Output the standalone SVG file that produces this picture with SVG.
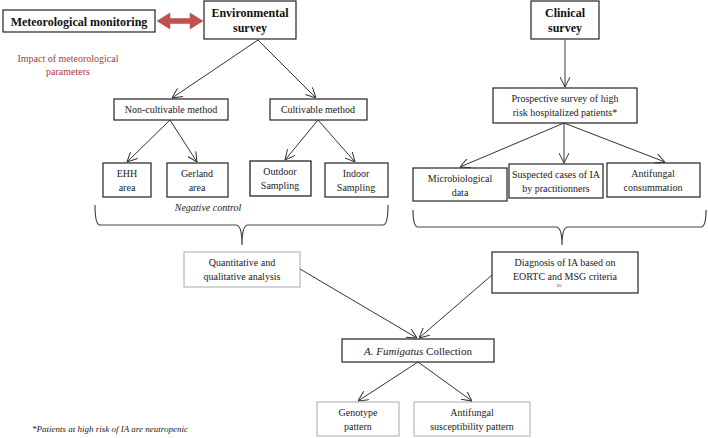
<svg xmlns="http://www.w3.org/2000/svg" width="708" height="438" viewBox="0 0 708 438">
<defs>
<style>
.box{fill:#fff;stroke:#222;stroke-width:1.2}
.gbox{fill:#fff;stroke:#aaa;stroke-width:1}
text{font-family:"Liberation Serif","Times New Roman",Times,serif}
.t{font-size:10px;fill:#222;text-anchor:middle}
.b{font-size:12px;font-weight:bold;fill:#111;text-anchor:middle}
.r{font-size:10px;fill:#b03a36;text-anchor:middle}
.ln{stroke:#333;stroke-width:1;fill:none}
.br{stroke:#444;stroke-width:1.2;fill:none}
</style>
<marker id="ah" viewBox="0 0 10 10" refX="10" refY="5" markerWidth="10" markerHeight="10" markerUnits="userSpaceOnUse" orient="auto">
<path d="M0,0 L10,5 L0,10" fill="none" stroke="#333" stroke-width="1"/>
</marker>
</defs>
<rect width="708" height="438" fill="#fff"/>

<g id="meteo">
<rect class="box" x="3" y="10" width="152" height="22"/>
<text class="b" x="79" y="25.5">Meteorological monitoring</text>
</g>
<g id="impact">
<text class="r" x="68" y="62">Impact of meteorological</text>
<text class="r" x="68" y="75">parameters</text>
</g>
<g id="env">
<rect class="box" x="204" y="1" width="92" height="38"/>
<text class="b" x="250" y="17">Environmental</text>
<text class="b" x="250" y="32">survey</text>
</g>
<g id="clin">
<rect class="box" x="531" y="1" width="68" height="38"/>
<text class="b" x="565" y="17">Clinical</text>
<text class="b" x="565" y="32">survey</text>
</g>
<g id="noncult">
<rect class="box" x="114" y="99" width="114" height="21"/>
<text class="t" x="171" y="113">Non-cultivable method</text>
</g>
<g id="cult">
<rect class="box" x="270" y="99" width="97" height="21"/>
<text class="t" x="318" y="113">Cultivable method</text>
</g>
<g id="ehh">
<rect class="box" x="103" y="163" width="48" height="34"/>
<text class="t" x="127" y="177">EHH</text>
<text class="t" x="127" y="191">area</text>
</g>
<g id="gerland">
<rect class="box" x="167" y="163" width="61" height="34"/>
<text class="t" x="197" y="177">Gerland</text>
<text class="t" x="197" y="191">area</text>
</g>
<g id="outdoor">
<rect class="box" x="250" y="161" width="61" height="35" style="stroke:#111"/>
<text class="t" x="280" y="175">Outdoor</text>
<text class="t" x="280" y="189">Sampling</text>
</g>
<g id="indoor">
<rect class="box" x="325" y="163" width="63" height="34"/>
<text class="t" x="356" y="177">Indoor</text>
<text class="t" x="356" y="191">Sampling</text>
</g>
<g id="negctrl">
<text class="t" x="208" y="211" font-style="italic">Negative control</text>
</g>
<g id="prosp">
<rect class="box" x="493" y="88" width="144" height="35"/>
<text class="t" x="565" y="102">Prospective survey of high</text>
<text class="t" x="565" y="116">risk hospitalized patients*</text>
</g>
<g id="micro">
<rect class="box" x="413" y="168" width="94" height="33"/>
<text class="t" x="460" y="182">Microbiological</text>
<text class="t" x="460" y="196">data</text>
</g>
<g id="suspect">
<rect class="box" x="509" y="164" width="94" height="34"/>
<text class="t" x="556" y="178">Suspected cases of IA</text>
<text class="t" x="556" y="192">by practitionners</text>
</g>
<g id="antifcons">
<rect class="box" x="607" y="163" width="93" height="34"/>
<text class="t" x="653" y="177">Antifungal</text>
<text class="t" x="653" y="191">consummation</text>
</g>
<g id="quant">
<rect class="gbox" x="184" y="252" width="116" height="35"/>
<text class="t" x="242" y="266">Quantitative and</text>
<text class="t" x="242" y="280">qualitative analysis</text>
</g>
<g id="diag">
<rect class="box" x="492" y="252" width="146" height="41"/>
<text class="t" x="565" y="266">Diagnosis of IA based on</text>
<text class="t" x="565" y="280">EORTC and MSG criteria</text>
<text class="t" x="559" y="287" style="font-size:5px">25</text>
</g>
<g id="fumig">
<rect class="box" x="342" y="339" width="152" height="23"/>
<text class="t" x="418" y="354.5" style="font-size:11px"><tspan font-style="italic">A. Fumigatus</tspan> Collection</text>
</g>
<g id="geno">
<rect class="gbox" x="317" y="402" width="82" height="34"/>
<text class="t" x="358" y="416">Genotype</text>
<text class="t" x="358" y="430">pattern</text>
</g>
<g id="suscept">
<rect class="gbox" x="414" y="402" width="116" height="34"/>
<text class="t" x="472" y="416">Antifungal</text>
<text class="t" x="472" y="430">susceptibility pattern</text>
</g>
<g id="footnote">
<text class="t" x="32" y="432" style="text-anchor:start;font-size:9px" font-style="italic">*Patients at high risk of IA are neutropenic</text>
</g>

<g id="connectors">
<polygon points="157,21 170,13 170,18.5 190,18.5 190,13 203,21 190,29 190,23.5 170,23.5 170,29" fill="#c0504d" stroke="#b04844" stroke-width="0.5"/>
<line class="ln" x1="258" y1="40" x2="172" y2="98" marker-end="url(#ah)"/>
<line class="ln" x1="258" y1="40" x2="316" y2="98" marker-end="url(#ah)"/>
<line class="ln" x1="170" y1="120" x2="127" y2="162" marker-end="url(#ah)"/>
<line class="ln" x1="170" y1="120" x2="197" y2="162" marker-end="url(#ah)"/>
<line class="ln" x1="318" y1="120" x2="285" y2="160" marker-end="url(#ah)"/>
<line class="ln" x1="318" y1="120" x2="355" y2="162" marker-end="url(#ah)"/>
<line class="ln" x1="565" y1="39" x2="565" y2="87" style="stroke:#666;stroke-width:1.3" marker-end="url(#ah)"/>
<line class="ln" x1="564" y1="123" x2="460" y2="167" marker-end="url(#ah)"/>
<line class="ln" x1="564" y1="123" x2="564" y2="163" marker-end="url(#ah)"/>
<line class="ln" x1="564" y1="123" x2="665" y2="162" marker-end="url(#ah)"/>
<path class="br" d="M95,205 Q95,225 100,225 L236,225 Q242,225 242,245 Q242,225 248,225 L383,225 Q388,225 388,205"/>
<path class="br" d="M413,210 Q413,227 418,227 L556,227 Q562,227 562,245 Q562,227 568,227 L701,227 Q706,227 706,210"/>
<line class="ln" x1="300" y1="269" x2="417" y2="338" marker-end="url(#ah)"/>
<line class="ln" x1="492" y1="275" x2="419" y2="338" marker-end="url(#ah)"/>
<line class="ln" x1="418" y1="362" x2="358" y2="401" marker-end="url(#ah)"/>
<line class="ln" x1="418" y1="362" x2="472" y2="401" marker-end="url(#ah)"/>
</g>
</svg>
